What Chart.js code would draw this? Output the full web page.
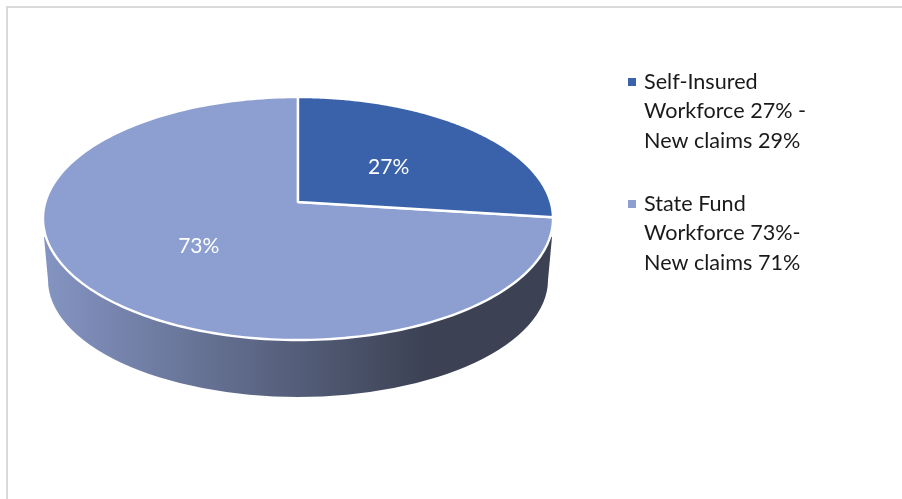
<!DOCTYPE html>
<html>
<head>
<meta charset="utf-8">
<title>Workforce and new claims</title>
<script src="https://cdn.jsdelivr.net/npm/chart.js@4"></script>
<style>
  html, body { margin: 0; padding: 0; background: #fff; }
  canvas { display: block; }
</style>
</head>
<body>
<canvas id="grafico" width="902" height="499"></canvas>
<script>
const categories = ["Self-Insured", "State Fund"];
const shares = [27, 73];
const sliceColors = ["#3A62AB", "#8D9FD1"];
const legendLines = [
  ["Self-Insured", "Workforce 27% -", "New claims 29%"],
  ["State Fund", "Workforce 73%-", "New claims 71%"]
];

// top face of the disc, as seen in perspective
const disc = { cx: 298, cy: 218.5, rx: 255, ry: 121.5, tilt: -0.136 };
const FONT = "Lato, 'Open Sans', sans-serif";

// maps a point of the flat unit circle onto the tilted ellipse
function project(angle, r) {
  const u = r * Math.cos(angle);
  const v = r * Math.sin(angle);
  const w = 1 + disc.tilt * v;
  const x = u * Math.sqrt(1 - disc.tilt * disc.tilt) / w;
  const y = (v + disc.tilt) / w;
  return { x: disc.cx + x * disc.rx, y: disc.cy + y * disc.ry };
}

function drawWall(ctx) {
  const grad = ctx.createLinearGradient(45, 0, 425, 0);
  grad.addColorStop(0, "#8494C2");
  grad.addColorStop(1, "#3C4254");
  ctx.fillStyle = grad;
  ctx.beginPath();
  ctx.moveTo(44, 237);
  ctx.lineTo(48, 280);
  ctx.ellipse(298, 280, 250, 117, 0, Math.PI, 0, true);
  ctx.lineTo(552, 237);
  ctx.closePath();
  ctx.fill();
}

function drawSlice(ctx, arc, color) {
  const apex = project(0, 0);
  ctx.beginPath();
  ctx.moveTo(apex.x, apex.y);
  const steps = 200;
  for (let i = 0; i <= steps; i++) {
    const a = arc.startAngle + (arc.endAngle - arc.startAngle) * i / steps;
    const p = project(a, 1);
    ctx.lineTo(p.x, p.y);
  }
  ctx.closePath();
  ctx.fillStyle = color;
  ctx.fill();
  ctx.strokeStyle = "#fff";
  ctx.lineWidth = 2.4;
  ctx.lineJoin = "round";
  ctx.stroke();
}

const tiltedPie = {
  id: "tiltedPie",
  beforeDraw(chart) {
    // frame line along the top and left
    const ctx = chart.ctx;
    ctx.save();
    ctx.fillStyle = "#D9D9D9";
    ctx.fillRect(6, 6, 896, 2);
    ctx.fillRect(6, 6, 2, 493);
    ctx.restore();
  },
  beforeDatasetDraw(chart, args) {
    const ctx = chart.ctx;
    const arcs = args.meta.data;
    ctx.save();
    drawWall(ctx);
    // state fund first so the dark slice sits on top of it
    drawSlice(ctx, arcs[1], sliceColors[1]);
    drawSlice(ctx, arcs[0], sliceColors[0]);

    ctx.fillStyle = "#fff";
    ctx.font = "21px " + FONT;
    ctx.textAlign = "center";
    ctx.textBaseline = "middle";
    arcs.forEach((arc, i) => {
      const mid = (arc.startAngle + arc.endAngle) / 2;
      const p = project(mid, 0.5);
      ctx.fillText(shares[i] + "%", p.x, p.y + 3);
    });
    ctx.restore();
    return false;
  },
  afterDraw(chart) {
    const ctx = chart.ctx;
    ctx.save();
    ctx.font = "21.6px " + FONT;
    ctx.textAlign = "left";
    ctx.textBaseline = "middle";
    const tops = [82, 204];
    legendLines.forEach((lines, i) => {
      ctx.fillStyle = sliceColors[i];
      ctx.fillRect(628, tops[i] - 4, 8, 8);
      ctx.fillStyle = "#1a1a1a";
      lines.forEach((line, j) => {
        ctx.fillText(line, 644, tops[i] + j * 29.3);
      });
    });
    ctx.restore();
  }
};

new Chart(document.getElementById("grafico"), {
  type: "pie",
  data: {
    labels: categories,
    datasets: [{ data: shares, backgroundColor: sliceColors }]
  },
  options: {
    responsive: false,
    animation: false,
    plugins: {
      legend: { display: false },
      tooltip: { enabled: false }
    }
  },
  plugins: [tiltedPie]
});
</script>
</body>
</html>
